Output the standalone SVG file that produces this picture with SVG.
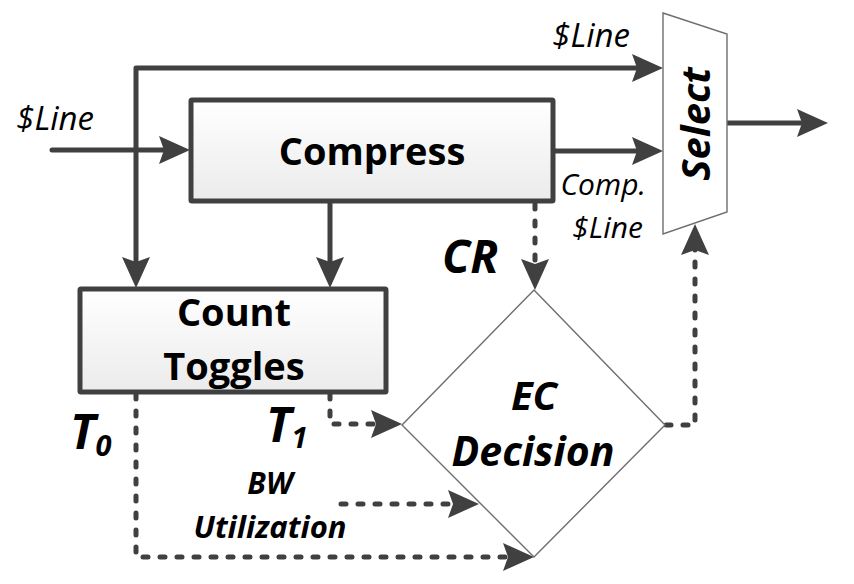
<svg xmlns="http://www.w3.org/2000/svg" width="854" height="584" viewBox="0 0 854 584">
<defs>
<linearGradient id="boxfill" x1="0" y1="0" x2="0" y2="1">
<stop offset="0" stop-color="#ffffff"/>
<stop offset="1" stop-color="#ebebeb"/>
</linearGradient>
<marker id="ah" markerUnits="userSpaceOnUse" markerWidth="32" markerHeight="30" viewBox="0 0 32 30" refX="16" refY="15" orient="auto-start-reverse">
<path d="M0,1 L31,15 L0,29 L5,15 Z" fill="#404040"/>
</marker>
</defs>
<style>
.solid{fill:none;stroke:#404040;stroke-width:5;stroke-linecap:round;stroke-linejoin:round}
.dash{fill:none;stroke:#404040;stroke-width:5;stroke-linecap:round;stroke-linejoin:round;stroke-dasharray:5 12}
.box{fill:url(#boxfill);stroke:#404040;stroke-width:5;stroke-linejoin:round}
.thin{fill:#ffffff;stroke:#6e6e6e;stroke-width:1.4}
.t{font-family:"Open Sans","Noto Sans",sans-serif;fill:#000}
.bold{font-weight:bold}
.bi{font-weight:bold;font-style:italic}
.it{font-style:italic}
</style>
<g id="connectors">
<path class="solid" d="M136,273 V68 H648" marker-start="url(#ah)" marker-end="url(#ah)"/>
<path class="solid" d="M52,150 H175" marker-end="url(#ah)"/>
<path class="solid" d="M330,201 V273" marker-end="url(#ah)"/>
<path class="solid" d="M553,151 H648" marker-end="url(#ah)"/>
<path class="solid" d="M727,123 H813" marker-end="url(#ah)"/>
<path class="dash" d="M535,204 V275" marker-end="url(#ah)"/>
<path class="dash" d="M330,394 V424 H387" marker-end="url(#ah)"/>
<path class="dash" d="M136,394 V557 H519" marker-end="url(#ah)"/>
<path class="dash" d="M341,504 H464" marker-end="url(#ah)"/>
<path class="dash" d="M666,425 H695 V239" marker-end="url(#ah)"/>
</g>
<g id="compress">
<rect class="box" x="191" y="100" width="362" height="101" rx="1"/>
<text class="t bold" x="372" y="165" font-size="38" text-anchor="middle">Compress</text>
</g>
<g id="count-toggles">
<rect class="box" x="80" y="289" width="306" height="103" rx="1"/>
<text class="t bold" x="234" y="326" font-size="38" text-anchor="middle">Count</text>
<text class="t bold" x="234" y="380" font-size="38" text-anchor="middle">Toggles</text>
</g>
<g id="select">
<polygon class="thin" points="663,13 727,34 727,212 663,234"/>
<text class="t bi" font-size="40" text-anchor="middle" transform="translate(710,124) rotate(-90)">Select</text>
</g>
<g id="ec-decision">
<polygon class="thin" points="534,290 665,425 534,557 402,425"/>
<text class="t bi" x="534" y="410" font-size="40" text-anchor="middle">EC</text>
<text class="t bi" x="533" y="466" font-size="41" text-anchor="middle">Decision</text>
</g>
<g id="labels">
<text class="t it" x="630" y="47" font-size="33" text-anchor="end">$Line</text>
<text class="t it" x="94" y="130" font-size="33" text-anchor="end">$Line</text>
<text class="t it" x="646" y="195" font-size="30" text-anchor="end">Comp.</text>
<text class="t it" x="643" y="238" font-size="30" text-anchor="end">$Line</text>
<text class="t bi" x="442" y="273" font-size="46">CR</text>
<text class="t bi" x="70" y="449" font-size="48">T<tspan font-size="29" dy="7">0</tspan></text>
<text class="t bi" x="266" y="442" font-size="48">T<tspan font-size="29" dy="6">1</tspan></text>
<text class="t bi" x="270" y="494" font-size="30" text-anchor="middle">BW</text>
<text class="t bi" x="270" y="538" font-size="31" text-anchor="middle">Utilization</text>
</g>
</svg>
